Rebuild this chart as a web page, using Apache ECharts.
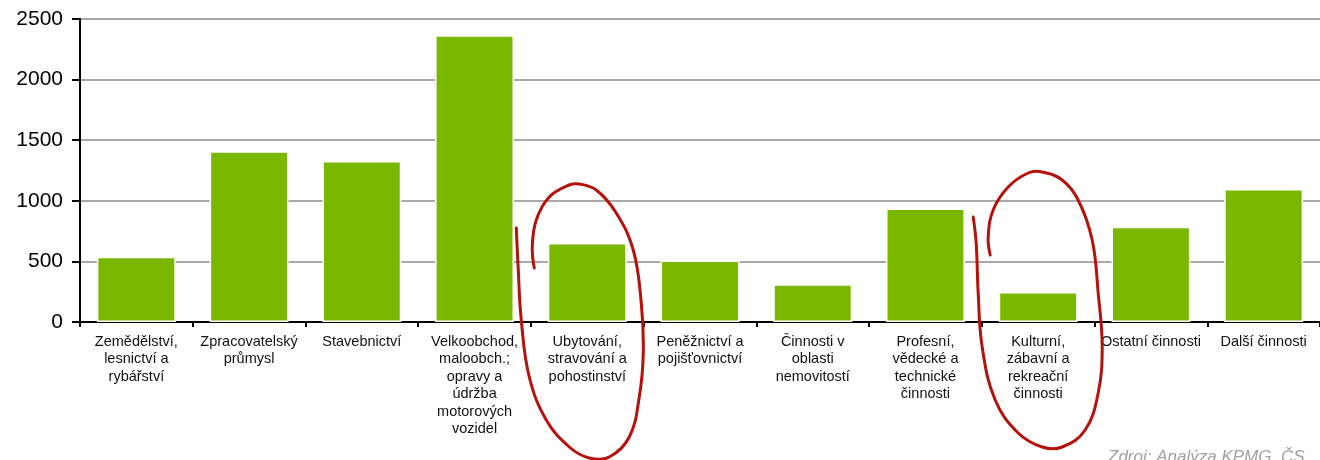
<!DOCTYPE html>
<html>
<head>
<meta charset="utf-8">
<script src="https://cdn.jsdelivr.net/npm/echarts@6/dist/echarts.min.js"></script>
<style>
html,body{margin:0;padding:0;background:#fff;}
#chart{width:1320px;height:460px;}
</style>
</head>
<body>
<div id="chart"></div>
<script>
const categories = [
  "Zemědělství,\nlesnictví a\nrybářství",
  "Zpracovatelský\nprůmysl",
  "Stavebnictví",
  "Velkoobchod,\nmaloobch.;\nopravy a\núdržba\nmotorových\nvozidel",
  "Ubytování,\nstravování a\npohostinství",
  "Peněžnictví a\npojišťovnictví",
  "Činnosti v\noblasti\nnemovitostí",
  "Profesní,\nvědecké a\ntechnické\nčinnosti",
  "Kulturní,\nzábavní a\nrekreační\nčinnosti",
  "Ostatní činnosti",
  "Další činnosti"
];
const values = [538, 1408, 1328, 2366, 652, 508, 312, 936, 248, 785, 1098];
const yTicks = [0, 500, 1000, 1500, 2000, 2500];
const highlighted = [4, 8];
const sourceText = "Zdroj: Analýza KPMG, ČS";

// hand-drawn loop annotation shapes (pixel offsets around category centre at axis)
const loopA = [[-53,-54],[-55,-75],[-51,-102],[-38,-125],[-18,-137],[-8,-138],[9,-132],[29,-109],[46,-72],[54,-19],[56,31],[52,75],[42,115],[22,135],[2,136],[-18,125],[-41,98],[-58,55],[-66,-2],[-69,-52],[-71,-94]];
const loopB = [[-48,-67],[-50,-85],[-45,-112],[-30,-135],[-10,-149],[4,-150],[24,-142],[40,-122],[54,-82],[60,-29],[64,25],[60,71],[47,108],[24,125],[4,125],[-20,111],[-43,78],[-56,25],[-60,-29],[-62,-79],[-65,-105]];
const loops = [loopA, loopB];

const chart = echarts.init(document.getElementById('chart'), null, {renderer:'canvas'});
const option = {
  animation: false,
  backgroundColor: '#fff',
  grid: { left: 80, top: 19, width: 1246, height: 303, containLabel: false },
  xAxis: {
    type: 'category',
    data: categories,
    axisLine: { lineStyle: { color: '#000', width: 2 } },
    axisTick: { show: true, alignWithLabel: false, length: 5, lineStyle: { color: '#000', width: 2 } },
    axisLabel: {
      interval: 0, color: '#111', fontFamily: 'Liberation Sans, Arial, sans-serif',
      fontSize: 14.5, lineHeight: 17.5, margin: 11
    },
    splitLine: { show: false }
  },
  yAxis: {
    type: 'value',
    min: yTicks[0], max: yTicks[yTicks.length-1], interval: 500,
    axisLine: { show: true, lineStyle: { color: '#000', width: 2 } },
    axisTick: { show: true, length: 8, lineStyle: { color: '#000', width: 2 } },
    axisLabel: { color: '#000', fontFamily: 'Liberation Sans, Arial, sans-serif', fontSize: 21, margin: 17,
      formatter: v => String(v) },
    splitLine: { show: true, lineStyle: { color: '#8c8c8c', width: 1.5 } }
  },
  series: [{
    type: 'bar',
    data: values,
    barCategoryGap: '30%',
    itemStyle: { color: '#7ab800', borderColor: '#ffffff', borderWidth: 1.5 },
    z: 3
  }]
};
chart.setOption(option);

const g = [];
highlighted.forEach((ci, k) => {
  const c = chart.convertToPixel({xAxisIndex: 0, yAxisIndex: 0}, [ci, 0]);
  const pts = loops[k].map(p => [c[0] + p[0], c[1] + p[1]]);
  g.push({
    type: 'polyline', z: 100,
    shape: { points: pts, smooth: 0.4 },
    style: { stroke: '#b5120c', lineWidth: 3, fill: null, lineCap: 'round' }
  });
});
g.push({
  type: 'text', z: 100, left: 1108, top: 449,
  style: { text: sourceText, fill: '#a0a0a0', font: 'italic 17px "Liberation Sans", Arial, sans-serif' }
});
chart.setOption({ graphic: g });
</script>
</body>
</html>
